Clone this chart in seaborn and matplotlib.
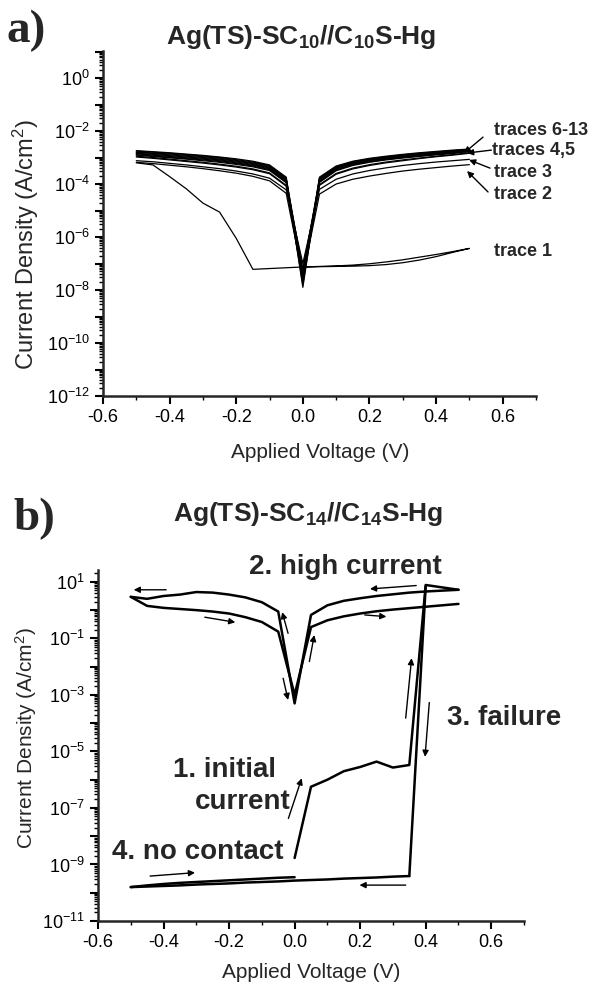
import numpy as np
import pandas as pd
import matplotlib
matplotlib.use("Agg")
import matplotlib.pyplot as plt
import matplotlib.ticker as mticker
import seaborn as sns

# ---------------- data: panel a (log10 of current density, A/cm^2) ----------------
volt_a = [-0.5, -0.45, -0.4, -0.35, -0.3, -0.25, -0.2, -0.15, -0.1, -0.05, 0.0,
          0.05, 0.1, 0.15, 0.2, 0.25, 0.3, 0.35, 0.4, 0.45, 0.5]
logj_t13 = [-2.74, -2.78, -2.82, -2.87, -2.92, -2.98, -3.05, -3.14, -3.28, -3.74, -7.6, -3.74, -3.32, -3.14, -3.03, -2.95, -2.88, -2.82, -2.77, -2.72, -2.68]
logj_t12 = [-2.76, -2.80, -2.84, -2.89, -2.94, -3.00, -3.08, -3.17, -3.31, -3.77, -7.9, -3.77, -3.35, -3.16, -3.05, -2.97, -2.90, -2.84, -2.79, -2.74, -2.69]
logj_t11 = [-2.79, -2.83, -2.87, -2.92, -2.97, -3.03, -3.11, -3.20, -3.34, -3.80, -7.3, -3.80, -3.37, -3.18, -3.07, -2.99, -2.92, -2.86, -2.80, -2.75, -2.70]
logj_t10 = [-2.81, -2.85, -2.90, -2.95, -3.00, -3.06, -3.14, -3.23, -3.37, -3.83, -7.7, -3.82, -3.39, -3.20, -3.09, -3.01, -2.94, -2.88, -2.82, -2.77, -2.72]
logj_t9 = [-2.84, -2.88, -2.93, -2.98, -3.03, -3.09, -3.17, -3.26, -3.40, -3.86, -7.4, -3.85, -3.41, -3.22, -3.11, -3.03, -2.96, -2.90, -2.84, -2.79, -2.73]
logj_t8 = [-2.86, -2.91, -2.96, -3.01, -3.06, -3.12, -3.20, -3.29, -3.43, -3.89, -7.8, -3.88, -3.44, -3.25, -3.13, -3.05, -2.98, -2.92, -2.86, -2.81, -2.75]
logj_t7 = [-2.89, -2.94, -2.99, -3.04, -3.09, -3.15, -3.23, -3.32, -3.46, -3.92, -7.5, -3.91, -3.47, -3.27, -3.16, -3.07, -3.00, -2.94, -2.88, -2.83, -2.76]
logj_t6 = [-2.91, -2.96, -3.01, -3.06, -3.12, -3.18, -3.26, -3.35, -3.49, -3.95, -7.2, -3.94, -3.50, -3.30, -3.18, -3.09, -3.02, -2.96, -2.90, -2.85, -2.77]
logj_t5 = [-2.95, -3.00, -3.06, -3.12, -3.18, -3.25, -3.33, -3.43, -3.58, -4.05, -7.6, -4.02, -3.60, -3.40, -3.27, -3.17, -3.09, -3.02, -2.95, -2.89, -2.82]
logj_t4 = [-2.98, -3.03, -3.09, -3.15, -3.21, -3.28, -3.36, -3.46, -3.61, -4.08, -7.3, -4.05, -3.63, -3.43, -3.30, -3.20, -3.12, -3.04, -2.97, -2.91, -2.84]
logj_t3 = [-3.12, -3.16, -3.22, -3.28, -3.35, -3.42, -3.51, -3.62, -3.78, -4.22, -7.0, -4.20, -3.82, -3.62, -3.49, -3.39, -3.30, -3.23, -3.17, -3.12, -3.07]
logj_t2 = [-3.18, -3.23, -3.29, -3.35, -3.42, -3.50, -3.59, -3.71, -3.88, -4.35, -7.5, -4.38, -4.00, -3.82, -3.70, -3.60, -3.51, -3.44, -3.38, -3.32, -3.27]
volt_t1 = [-0.5, -0.45, -0.4, -0.35, -0.3, -0.25, -0.2, -0.15, -0.1, -0.05, 0.0, 0.05, 0.1, 0.15, 0.2, 0.25, 0.3, 0.35, 0.4, 0.45, 0.5,
           0.45, 0.4, 0.35, 0.3, 0.25, 0.2, 0.15, 0.1, 0.05, 0.0]
logj_t1 = [-3.20, -3.28, -3.72, -4.18, -4.72, -5.06, -6.05, -7.22, -7.19, -7.16, -7.13, -7.11, -7.09, -7.06, -7.01, -6.94, -6.86, -6.76, -6.66, -6.55, -6.43,
           -6.58, -6.74, -6.87, -6.97, -7.04, -7.08, -7.10, -7.11, -7.12, -7.13]

# ---------------- data: panel b ----------------
volt_initial = [0.0, 0.05, 0.1, 0.15, 0.2, 0.25, 0.3, 0.35, 0.4, 0.5]
logj_initial = [-8.77, -6.25, -6.0, -5.7, -5.55, -5.36, -5.57, -5.48, 0.89, 0.72]
volt_high_rev = [0.5, 0.45, 0.4, 0.35, 0.3, 0.25, 0.2, 0.15, 0.1, 0.05, 0.0,
                 -0.05, -0.1, -0.15, -0.2, -0.25, -0.3, -0.35, -0.4, -0.45, -0.5]
logj_high_rev = [0.72, 0.69, 0.66, 0.62, 0.56, 0.50, 0.42, 0.33, 0.17, -0.17, -3.3,
                 -0.05, 0.28, 0.45, 0.55, 0.62, 0.64, 0.55, 0.50, 0.40, 0.47]
volt_high_fwd = [-0.5, -0.45, -0.4, -0.35, -0.3, -0.25, -0.2, -0.15, -0.1, -0.05, 0.0,
                 0.05, 0.1, 0.15, 0.2, 0.25, 0.3, 0.35, 0.4, 0.45, 0.5]
logj_high_fwd = [0.47, 0.15, 0.08, 0.04, 0.0, -0.05, -0.12, -0.25, -0.42, -0.76, -3.0,
                 -0.6, -0.36, -0.22, -0.12, -0.04, 0.02, 0.07, 0.12, 0.17, 0.22]
volt_failure = [0.4, 0.35]
logj_failure = [0.85, -9.41]
volt_nocontact_rev = [0.35, 0.3, 0.25, 0.2, 0.15, 0.1, 0.05, 0.0, -0.05, -0.1, -0.15,
                      -0.2, -0.25, -0.3, -0.35, -0.4, -0.45, -0.5]
logj_nocontact_rev = [-9.41, -9.43, -9.46, -9.48, -9.50, -9.53, -9.55, -9.57, -9.60, -9.62, -9.64,
                      -9.67, -9.69, -9.71, -9.74, -9.76, -9.78, -9.80]
volt_nocontact_fwd = [-0.5, -0.45, -0.4, -0.35, -0.3, -0.25, -0.2, -0.15, -0.1, -0.05, 0.0]
logj_nocontact_fwd = [-9.80, -9.74, -9.69, -9.65, -9.62, -9.59, -9.56, -9.53, -9.50, -9.47, -9.45]

x_ticks = [-0.6, -0.4, -0.2, 0.0, 0.2, 0.4, 0.6]


def build(traces):
    rows = []
    for name, (v, lj) in traces.items():
        for i, (a, b) in enumerate(zip(v, lj)):
            rows.append({"trace": name, "order": i, "V": a, "J": 10.0 ** b})
    return pd.DataFrame(rows)


df_a = build({
    "t13": (volt_a, logj_t13), "t12": (volt_a, logj_t12), "t11": (volt_a, logj_t11),
    "t10": (volt_a, logj_t10), "t9": (volt_a, logj_t9), "t8": (volt_a, logj_t8),
    "t7": (volt_a, logj_t7), "t6": (volt_a, logj_t6), "t5": (volt_a, logj_t5),
    "t4": (volt_a, logj_t4), "t3": (volt_a, logj_t3), "t2": (volt_a, logj_t2),
    "t1": (volt_t1, logj_t1),
})
df_b = build({
    "initial": (volt_initial, logj_initial),
    "high_rev": (volt_high_rev, logj_high_rev),
    "high_fwd": (volt_high_fwd, logj_high_fwd),
    "failure": (volt_failure, logj_failure),
    "nc_rev": (volt_nocontact_rev, logj_nocontact_rev),
    "nc_fwd": (volt_nocontact_fwd, logj_nocontact_fwd),
})

# ---------------- style ----------------
sns.set_style("ticks")
plt.rcParams["font.family"] = ["Liberation Sans", "DejaVu Sans"]
plt.rcParams["mathtext.fontset"] = "custom"
plt.rcParams["mathtext.rm"] = "Liberation Sans"
plt.rcParams["mathtext.bf"] = "Liberation Sans:bold"
plt.rcParams["mathtext.it"] = "Liberation Sans:italic"
plt.rcParams["axes.unicode_minus"] = False

W, H = 598, 984
fig = plt.figure(figsize=(W / 100, H / 100), dpi=100)


def px_axes(l, r, t, b):
    return fig.add_axes([l / W, 1 - b / H, (r - l) / W, (b - t) / H])


ax_a = px_axes(103, 536, 51, 396)
ax_b = px_axes(98, 524, 570, 921)


def fmt_factory(parity):
    def f(val, pos):
        e = int(round(np.log10(val)))
        if abs(np.log10(val) - e) > 1e-6 or (e % 2) != parity:
            return ""
        return r"$\mathdefault{10^{%d}}$" % e
    return f


def style_axis(ax, ylim, parity):
    ax.set_yscale("log")
    ax.set_ylim(*ylim)
    ax.set_xlim(-0.6, 0.7)
    ax.xaxis.set_major_locator(mticker.FixedLocator(x_ticks))
    ax.xaxis.set_minor_locator(mticker.MultipleLocator(0.1))
    ax.xaxis.set_major_formatter(mticker.FormatStrFormatter("%.1f"))
    ax.yaxis.set_major_locator(mticker.LogLocator(base=10, numticks=40))
    ax.yaxis.set_minor_locator(mticker.LogLocator(base=10, subs=np.arange(2, 10), numticks=200))
    ax.yaxis.set_major_formatter(mticker.FuncFormatter(fmt_factory(parity)))
    ax.yaxis.set_minor_formatter(mticker.NullFormatter())
    for s in ["top", "right"]:
        ax.spines[s].set_visible(False)
    for s in ["left", "bottom"]:
        ax.spines[s].set_linewidth(1.8)
    ax.tick_params(axis="both", which="major", direction="out", length=6, width=1.5,
                   labelsize=13, color="black", labelcolor="black")
    ax.tick_params(axis="both", which="minor", direction="out", length=3, width=1.0, color="black")
    ax.set_xlabel("")
    ax.set_ylabel("")


sns.lineplot(data=df_a, x="V", y="J", units="trace", estimator=None, sort=False,
             color="black", linewidth=0.9, ax=ax_a, legend=False)
style_axis(ax_a, (1e-12, 10 ** 1.02), 0)

sns.lineplot(data=df_b, x="V", y="J", units="trace", estimator=None, sort=False,
             color="black", linewidth=1.8, ax=ax_b, legend=False)
style_axis(ax_b, (1e-11, 10 ** 1.42), 1)


def ftext(x, y, s, **kw):
    fig.text(x / W, 1 - y / H, s, **kw)


# panel labels and titles
ftext(7, 31, "a)", family="Liberation Serif", fontweight="bold", fontsize=34, va="center", ha="left")
ftext(301, 37, r"Ag(TS)-SC$_{\mathbf{10}}$//C$_{\mathbf{10}}$S-Hg", fontweight="bold", fontsize=19,
      ha="center", va="center")
ftext(13, 519, "b)", family="Liberation Serif", fontweight="bold", fontsize=34, va="center", ha="left")
ftext(308, 514, r"Ag(TS)-SC$_{\mathbf{14}}$//C$_{\mathbf{14}}$S-Hg", fontweight="bold", fontsize=19,
      ha="center", va="center")

# axis labels
ftext(320, 452, "Applied Voltage (V)", fontsize=15, ha="center", va="center")
ftext(311, 973, "Applied Voltage (V)", fontsize=15, ha="center", va="center")
ftext(26, 245, r"Current Density (A/cm$^2$)", fontsize=17, rotation=90, ha="center", va="center")
ftext(26, 738, r"Current Density (A/cm$^2$)", fontsize=15, rotation=90, ha="center", va="center")

# panel a annotations
arrow_kw = dict(arrowstyle="-|>", color="black", lw=1.0, mutation_scale=9, shrinkA=0, shrinkB=0)
lab_kw = dict(fontweight="bold", fontsize=13, ha="left", va="center")
ax_a.text(0.574, 10 ** -1.97, "traces 6-13", **lab_kw)
ax_a.text(0.568, 10 ** -2.72, "traces 4,5", **lab_kw)
ax_a.text(0.574, 10 ** -3.55, "trace 3", **lab_kw)
ax_a.text(0.574, 10 ** -4.40, "trace 2", **lab_kw)
ax_a.text(0.574, 10 ** -6.53, "trace 1", **lab_kw)
ax_a.annotate("", xy=(0.484, 10 ** -2.83), xytext=(0.541, 10 ** -2.23), arrowprops=arrow_kw)
ax_a.annotate("", xy=(0.493, 10 ** -2.83), xytext=(0.566, 10 ** -2.72), arrowprops=arrow_kw)
ax_a.annotate("", xy=(0.499, 10 ** -3.09), xytext=(0.562, 10 ** -3.40), arrowprops=arrow_kw)
ax_a.annotate("", xy=(0.493, 10 ** -3.51), xytext=(0.556, 10 ** -4.30), arrowprops=arrow_kw)

# panel b annotations
blab = dict(fontweight="bold", fontsize=20, ha="left", va="center")
ftext(249, 567, "2. high current", **blab)
ftext(447, 718, "3. failure", **blab)
ftext(173, 770, "1. initial", **blab)
ftext(195, 802, "current", **blab)
ftext(112, 852, "4. no contact", **blab)

b_arrows = [
    ((-0.392, 0.72), (-0.491, 0.72)),
    ((-0.274, -0.25), (-0.181, -0.43)),
    ((-0.020, -0.82), (-0.038, -0.07)),
    ((-0.035, -2.41), (-0.020, -3.18)),
    ((0.045, -1.82), (0.060, -0.88)),
    ((0.214, -0.17), (0.280, -0.23)),
    ((0.371, 0.87), (0.230, 0.75)),
    ((-0.019, -7.37), (0.0216, -5.95)),
    ((0.339, -3.82), (0.357, -1.70)),
    ((0.411, -3.27), (0.398, -5.19)),
    ((-0.441, -9.41), (-0.304, -9.29)),
    ((0.339, -9.73), (0.198, -9.73)),
]
for (x0, l0), (x1, l1) in b_arrows:
    ax_b.annotate("", xy=(x1, 10 ** l1), xytext=(x0, 10 ** l0), arrowprops=arrow_kw)

fig.savefig("out.png", dpi=100)
